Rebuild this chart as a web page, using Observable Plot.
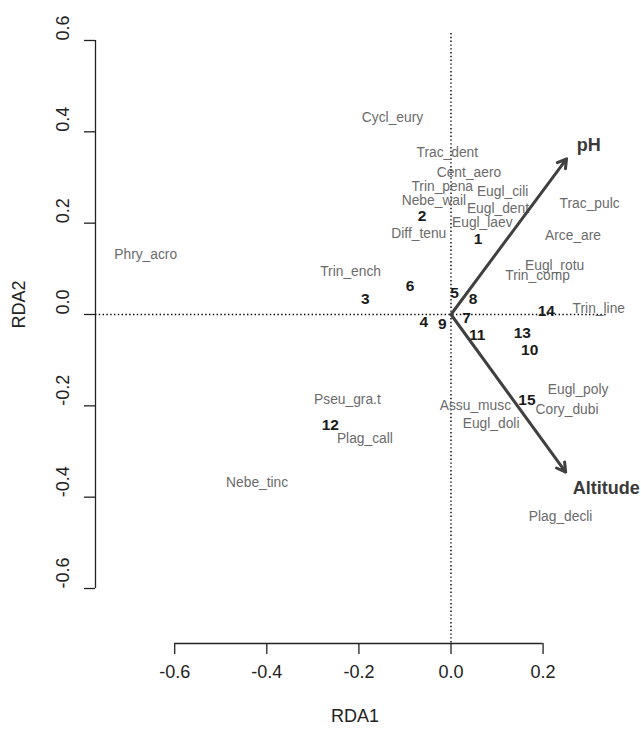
<!DOCTYPE html>
<html>
<head>
<meta charset="utf-8">
<script src="https://cdn.jsdelivr.net/npm/d3@7"></script>
<script src="https://cdn.jsdelivr.net/npm/@observablehq/plot@0.6"></script>
<style>
  html, body { margin: 0; padding: 0; background: #ffffff; }
  #chart { width: 641px; height: 729px; }
</style>
</head>
<body>
<div id="chart"></div>
<script>
// Species scores (labels drawn in grey)
const speciesNames = ["Cycl_eury","Trac_dent","Cent_aero","Trin_pena","Eugl_cili","Nebe_wail","Eugl_dent","Eugl_laev","Diff_tenu","Trac_pulc","Arce_are","Eugl_rotu","Trin_comp","Trin_line","Trin_ench","Phry_acro","Pseu_gra.t","Plag_call","Assu_musc","Eugl_doli","Eugl_poly","Cory_dubi","Nebe_tinc","Plag_decli"];
const speciesX = [-0.127,-0.008,0.039,-0.019,0.112,-0.037,0.102,0.068,-0.070,0.301,0.265,0.225,0.188,0.321,-0.218,-0.663,-0.225,-0.187,0.053,0.087,0.276,0.252,-0.421,0.238];
const speciesY = [0.431,0.354,0.310,0.281,0.269,0.250,0.231,0.201,0.178,0.242,0.173,0.107,0.085,0.014,0.093,0.131,-0.187,-0.272,-0.199,-0.238,-0.165,-0.209,-0.367,-0.442];

// Site scores (bold numbers)
const siteNames = ["1","2","3","4","5","6","7","8","9","10","11","12","13","14","15"];
const siteX = [0.059,-0.063,-0.186,-0.059,0.008,-0.089,0.034,0.048,-0.019,0.171,0.057,-0.262,0.155,0.207,0.165];
const siteY = [0.166,0.215,0.034,-0.017,0.047,0.062,-0.007,0.034,-0.020,-0.077,-0.044,-0.243,-0.040,0.007,-0.187];

// Environmental biplot arrows
const envNames = ["pH","Altitude"];
const envX = [0.251,0.249];
const envY = [0.341,-0.345];
const envLabelX = [0.299,0.337];
const envLabelY = [0.370,-0.380];

// Axes
const xTicks = [-0.6,-0.4,-0.2,0.0,0.2];
const yTicks = [-0.6,-0.4,-0.2,0.0,0.2,0.4,0.6];
const xDomain = [-0.772, 0.3377];
const yDomain = [-0.7204, 0.6153];
const xTitle = "RDA1";
const yTitle = "RDA2";

const species = speciesNames.map((n,i) => ({name:n, x:speciesX[i], y:speciesY[i]}));
const sites = siteNames.map((n,i) => ({name:n, x:siteX[i], y:siteY[i]}));
const env = envNames.map((n,i) => ({name:n, x:envX[i], y:envY[i], lx:envLabelX[i], ly:envLabelY[i]}));
const fmt = d => d.toFixed(1);

const chart = Plot.plot({
  width: 641,
  height: 729,
  marginLeft: 95,
  marginRight: 35,
  marginTop: 33,
  marginBottom: 86,
  style: {fontFamily: "'Liberation Sans', Arial, Helvetica, sans-serif", background: "#ffffff", overflow: "visible"},
  x: {domain: xDomain, axis: null},
  y: {domain: yDomain, axis: null},
  marks: [
    // dotted reference lines
    Plot.ruleY([0], {stroke: "#000", strokeWidth: 1.4, strokeDasharray: "1.4,2.4"}),
    Plot.ruleX([0], {stroke: "#000", strokeWidth: 1.4, strokeDasharray: "1.4,2.4"}),
    // species labels
    Plot.text(species, {x: "x", y: "y", text: "name", fill: "#6b6b6b", fontSize: 13.8}),
    // site labels
    Plot.text(sites, {x: "x", y: "y", text: "name", fill: "#1a1a1a", fontSize: 15.5, fontWeight: "bold"}),
    // arrows
    Plot.arrow(env, {x1: 0, y1: 0, x2: "x", y2: "y", stroke: "#404040", strokeWidth: 3, headLength: 5}),
    Plot.text(env, {x: "lx", y: "ly", text: "name", fill: "#3a3a3a", fontSize: 18, fontWeight: "bold"}),
    // y axis
    Plot.ruleX([xDomain[0]], {y1: yTicks[0], y2: yTicks[yTicks.length-1], stroke: "#222", strokeWidth: 1.3}),
    Plot.axisY(yTicks, {anchor: "left", tickSize: 11, tickFormat: () => "", stroke: "#222", strokeWidth: 1.3}),
    Plot.text(yTicks, {y: d => d, text: fmt, frameAnchor: "left", dx: -32, rotate: -90, fontSize: 18, fill: "#222"}),
    // x axis
    Plot.ruleY([yDomain[0]], {x1: xTicks[0], x2: xTicks[xTicks.length-1], stroke: "#222", strokeWidth: 1.3}),
    Plot.axisX(xTicks, {anchor: "bottom", tickSize: 11, tickFormat: () => "", stroke: "#222", strokeWidth: 1.3}),
    Plot.text(xTicks, {x: d => d, text: fmt, frameAnchor: "bottom", dy: 34, fontSize: 18, fill: "#222"}),
    // axis titles
    Plot.text([xTitle], {text: d => d, frameAnchor: "bottom", dy: 78, dx: 4, fontSize: 18, fill: "#222"}),
    Plot.text([yTitle], {text: d => d, frameAnchor: "left", dx: -76, dy: -10, rotate: -90, fontSize: 18, fill: "#222"})
  ]
});
document.getElementById("chart").appendChild(chart);
</script>
</body>
</html>
